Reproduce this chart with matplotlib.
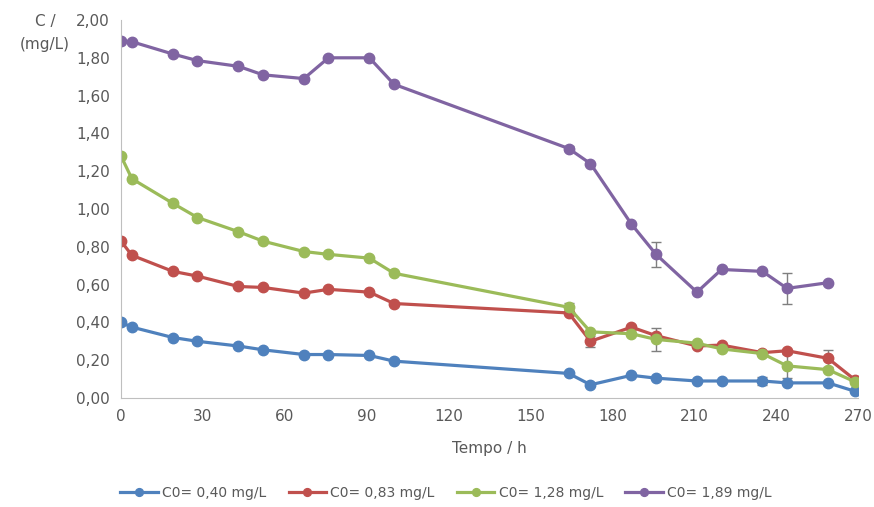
import matplotlib.pyplot as plt
import numpy as np
from matplotlib.ticker import FuncFormatter

plt.rcParams['font.family'] = ['DejaVu Sans']

# tempo (h)
t = [0, 4, 19, 28, 43, 52, 67, 76, 91, 100, 164, 172, 187, 196, 211, 220, 235, 244, 259, 269]

c040 = [0.40, 0.375, 0.32, 0.30, 0.275, 0.255, 0.23, 0.23, 0.225, 0.195,
        0.13, 0.07, 0.12, 0.105, 0.09, 0.09, 0.09, 0.08, 0.08, 0.035]
c083 = [0.83, 0.755, 0.67, 0.645, 0.59, 0.585, 0.555, 0.575, 0.56, 0.50,
        0.45, 0.30, 0.375, 0.33, 0.275, 0.28, 0.24, 0.25, 0.21, 0.095]
c128 = [1.28, 1.16, 1.03, 0.955, 0.88, 0.83, 0.775, 0.76, 0.74, 0.66,
        0.48, 0.35, 0.34, 0.31, 0.29, 0.26, 0.235, 0.17, 0.15, 0.085]
c189 = [1.89, 1.885, 1.82, 1.785, 1.755, 1.71, 1.69, 1.80, 1.80, 1.66,
        1.32, 1.24, 0.92, 0.76, 0.56, 0.68, 0.67, 0.58, 0.61]

# error bars (time, std)
err040 = {235: 0.02}
err083 = {172: 0.03, 187: 0.01, 259: 0.045}
err128 = {164: 0.025, 196: 0.06, 244: 0.065}
err189 = {164: 0.015, 196: 0.065, 244: 0.08}

labels = ['C0= 0,40 mg/L', 'C0= 0,83 mg/L', 'C0= 1,28 mg/L', 'C0= 1,89 mg/L']
colors = ['#4F81BD', '#C0504D', '#9BBB59', '#8064A2']
series = [c040, c083, c128, c189]
errs = [err040, err083, err128, err189]

fig = plt.figure(figsize=(8.74, 5.07), dpi=100)
ax = fig.add_axes([121/874, 1-398/507, 737/874, 378/507])

for y, lab, col, e in zip(series, labels, colors, errs):
    x = t[:len(y)]
    ex = list(e.keys())
    ey = [y[t.index(k)] for k in ex]
    ax.errorbar(ex, ey, yerr=list(e.values()), fmt='none', ecolor='#7F7F7F',
                elinewidth=1, capsize=3.5, capthick=1, zorder=1)
    ax.plot(x, y, '-o', color=col, lw=2.3, ms=7.5, label=lab, zorder=2)

ax.set_xlim(0, 270)
ax.set_ylim(0, 2)
ax.set_xticks(np.arange(0, 271, 30))
ax.set_yticks(np.arange(0, 2.01, 0.2))
ax.yaxis.set_major_formatter(FuncFormatter(lambda v, p: f'{v:.2f}'.replace('.', ',')))
ax.tick_params(length=0, labelsize=11, colors='#595959', pad=8)
for s in ['top', 'right']:
    ax.spines[s].set_visible(False)
for s in ['left', 'bottom']:
    ax.spines[s].set_color('#BFBFBF')
ax.set_xlabel('Tempo / h', fontsize=11, color='#595959', labelpad=12)
fig.text(45/874, 1-33/507, 'C /\n(mg/L)', fontsize=11, color='#595959',
         ha='center', va='center', linespacing=1.6)

fig.legend(loc='center', bbox_to_anchor=(446/874, 1-493/507), ncol=4, frameon=False,
           fontsize=10, handlelength=2.7, handletextpad=0.3, columnspacing=1.6,
           markerscale=0.75, labelcolor='#595959')

fig.savefig('out.png', dpi=100)
